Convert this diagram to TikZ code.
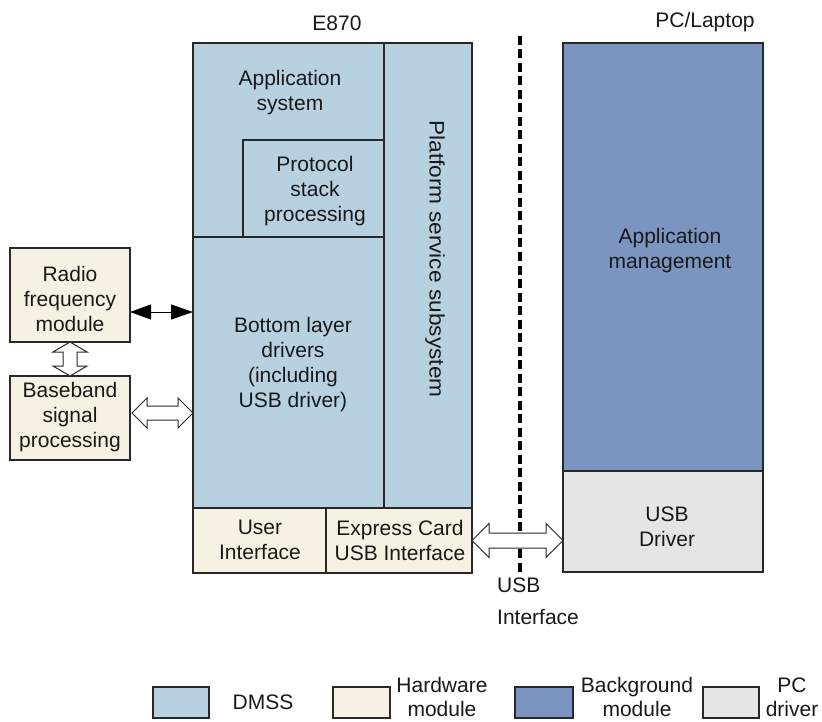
\documentclass[tikz,border=0pt]{standalone}
\usepackage{fontspec}
\setmainfont{Liberation Sans}
\usetikzlibrary{calc,arrows.meta}
\definecolor{dmss}{RGB}{183,209,224}
\definecolor{hw}{RGB}{246,241,226}
\definecolor{bgm}{RGB}{123,149,192}
\definecolor{pcd}{RGB}{229,229,229}
\definecolor{edge}{RGB}{40,40,40}
\newcommand\lbl{\fontsize{21}{25}\selectfont}
\newcommand\hollowarrow[5]{%
  \draw[edge, line width=1pt, fill=white, line join=miter]
    ($#1$) -- ($#1!#3!#2!#5!90:#2$) -- ($#1!#3!#2!#4!90:#2$)
    -- ($#2!#3!#1!#4!-90:#1$) -- ($#2!#3!#1!#5!-90:#1$) -- ($#2$)
    -- ($#2!#3!#1!#5!90:#1$) -- ($#2!#3!#1!#4!90:#1$)
    -- ($#1!#3!#2!#4!-90:#2$) -- ($#1!#3!#2!#5!-90:#2$) -- cycle;}
\begin{document}
\begin{tikzpicture}[x=1pt,y=-1pt,
  region/.style={draw=edge, line width=1.2pt, anchor=north west, inner sep=0pt, outer sep=0pt},
  txt/.style={align=center, font=\lbl, text=black!90, inner sep=0pt}]
\useasboundingbox (0,0) rectangle (822,722);
% E870 block
\node[region, fill=dmss, minimum width=191, minimum height=465] (dleft) at (193,43) {};
\node[region, minimum width=191, minimum height=97, draw=none] (appsys) at (193,43) {};
\node[region, fill=dmss, minimum width=141, minimum height=97] (proto) at (243,140) {};
\node[region, fill=dmss, minimum width=191, minimum height=271] (bottom) at (193,237) {};
\node[region, fill=dmss, minimum width=88, minimum height=465] (plat) at (384,43) {};
\node[region, fill=hw, minimum width=133, minimum height=65] (user) at (193,508) {};
\node[region, fill=hw, minimum width=146, minimum height=65] (express) at (326,508) {};
% PC block
\node[region, fill=bgm, minimum width=200, minimum height=428] (pcapp) at (563,43) {};
\node[region, fill=pcd, minimum width=200, minimum height=101] (pcdrv) at (563,471) {};
% left hardware
\node[region, fill=hw, minimum width=120, minimum height=94] (radio) at (10,248) {};
\node[region, fill=hw, minimum width=120, minimum height=84] (base) at (10,376) {};
% texts
\node[txt] (te870) at (337,23) {E870};
\node[txt] (tpc) at (705,22) {PC/Laptop};
\node[txt] (tapp) at (290,93) {Application\\system};
\node[txt] (tproto) at (315,191) {Protocol\\stack\\processing};
\node[txt] (tbottom) at (293,365) {Bottom layer\\drivers\\(including\\USB driver)};
\node[txt, rotate=-90] (tplat) at (435,259) {\scalebox{1.08}[1]{Platform service subsystem}};
\node[txt] (tuser) at (260,540) {User\\Interface};
\node[txt] (texpress) at (400,540) {Express Card\\USB Interface};
\node[txt] (tpcapp) at (670,251) {Application\\management};
\node[txt] (tpcdrv) at (667,527) {USB\\Driver};
\node[txt] (tradio) at (70,299) {Radio\\frequency\\module};
\node[txt] (tbase) at (70,417) {Baseband\\signal\\processing};
\node[txt, align=left, anchor=west, font=\fontsize{21}{32}\selectfont] (tusb) at (497,601) {USB\\Interface};
% dashed separator
\coordinate (dtop) at (520,36);
\coordinate (dbot) at (520,576);
\draw[black, line width=3.2pt, dash pattern=on 9pt off 4.5pt] (dtop) -- (dbot);
% connectors
\coordinate (ra) at ([yshift=-17pt]radio.east);
\coordinate (rb) at (bottom.west |- ra);
\draw[black, line width=1pt, {Triangle[length=21pt,width=15pt]}-{Triangle[length=22pt,width=15pt]}]
  (ra) -- (rb);
\hollowarrow{(radio.south)}{(base.north)}{10pt}{7pt}{17pt}
\coordinate (ba) at ([xshift=2pt,yshift=5pt]base.east);
\coordinate (bb) at (bottom.west |- ba);
\hollowarrow{(ba)}{(bb)}{15pt}{7pt}{15pt}
\coordinate (ea) at (pcdrv.west |- express.east);
\hollowarrow{(express.east)}{(ea)}{17pt}{7.5pt}{17pt}
% legend
\node[region, fill=dmss, minimum width=56, minimum height=31] (lg1) at (153,687) {};
\node[region, fill=hw, minimum width=57, minimum height=31] (lg2) at (333,687) {};
\node[region, fill=bgm, minimum width=58, minimum height=31] (lg3) at (515,687) {};
\node[region, fill=pcd, minimum width=56, minimum height=31] (lg4) at (703,687) {};
\node[txt] (lt1) at (263,702) {DMSS};
\node[txt, font=\fontsize{21}{24}\selectfont] (lt2) at (442,697) {Hardware\\module};
\node[txt, font=\fontsize{21}{24}\selectfont] (lt3) at (637,697) {Background\\module};
\node[txt, font=\fontsize{21}{24}\selectfont] (lt4) at (792,697) {PC\\driver};
\end{tikzpicture}
\end{document}
